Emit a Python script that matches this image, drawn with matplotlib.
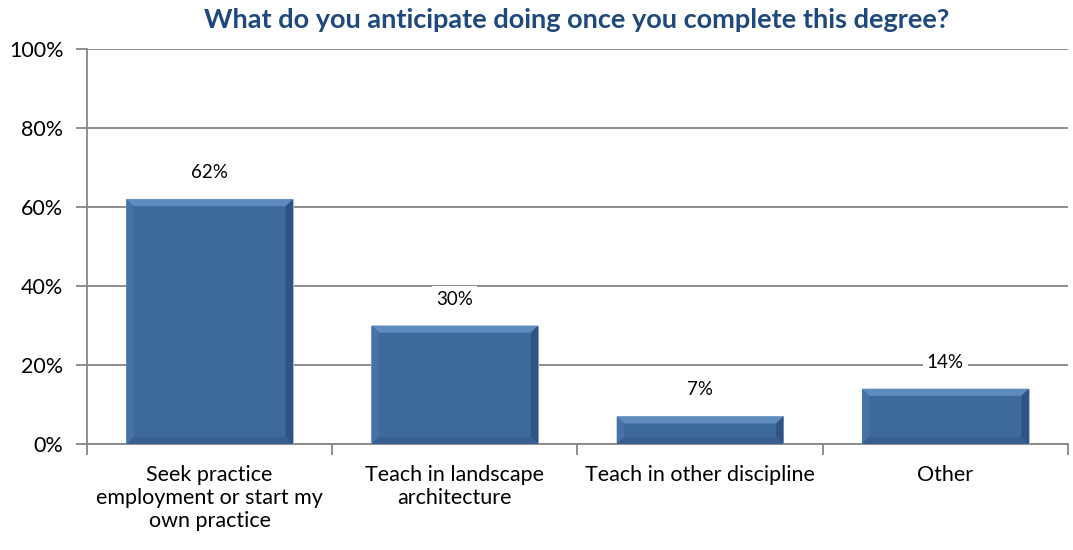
import numpy as np
import matplotlib.pyplot as plt
from matplotlib.patches import Polygon

categories = ["Seek practice\nemployment or start my\nown practice",
              "Teach in landscape\narchitecture",
              "Teach in other discipline",
              "Other"]
values = [62, 30, 7, 14]
labels = ["62%", "30%", "7%", "14%"]
yticks = [0, 20, 40, 60, 80, 100]

plt.rcParams['font.family'] = ['Lato', 'DejaVu Sans']

fig = plt.figure(figsize=(10.73, 5.5), dpi=100)
ax = fig.add_axes([0.0811, 0.1927, 0.9142, 0.7182])

x = np.arange(len(values))
width = 0.68
face = '#3E699B'
ax.bar(x, values, width=width, color=face, edgecolor='#A9BBD0', linewidth=0.8, zorder=3)

# soft bevel on each bar
bx = 0.030
by = 1.8
for xi, v in zip(x, values):
    l, r = xi - width / 2, xi + width / 2
    sides = [
        ([(l, v), (r, v), (r - bx, v - by), (l + bx, v - by)], '#5F8BBF'),
        ([(l, 0), (l, v), (l + bx, v - by), (l + bx, by)], '#4672A5'),
        ([(r, 0), (r, v), (r - bx, v - by), (r - bx, by)], '#2F5483'),
        ([(l, 0), (r, 0), (r - bx, by), (l + bx, by)], '#375F90'),
    ]
    for pts, c in sides:
        ax.add_patch(Polygon(pts, closed=True, facecolor=c, edgecolor='none', zorder=4))

for xi, v, lab in zip(x, values, labels):
    ax.annotate(lab, (xi, v), xytext=(0, 19), textcoords='offset points',
                ha='center', va='center', fontsize=13.5, color='black',
                bbox=dict(facecolor='white', edgecolor='none', pad=3), zorder=5)

ax.set_xlim(-0.5, len(values) - 0.5)
ax.set_ylim(0, 100)
ax.set_yticks(yticks)
ax.set_yticklabels([f"{t}%" for t in yticks], fontsize=15.5)
ax.yaxis.grid(True, color='#868686', linewidth=1.3, zorder=0)
ax.set_axisbelow(True)

ax.set_xticks(np.arange(len(values) + 1) - 0.5)
ax.set_xticklabels([])
ax.set_xticks(x, minor=True)
ax.set_xticklabels(categories, minor=True, fontsize=15.5, linespacing=1.2)
ax.tick_params(axis='x', which='major', length=8, color='#868686', width=1.3, direction='out')
ax.tick_params(axis='x', which='minor', length=0, pad=15)
ax.tick_params(axis='y', length=8, color='#868686', width=1.3, pad=9)

for s in ['top', 'right']:
    ax.spines[s].set_visible(False)
for s in ['left', 'bottom']:
    ax.spines[s].set_color('#868686')
    ax.spines[s].set_linewidth(1.3)

fig.text(0.5378, 0.963, "What do you anticipate doing once you complete this degree?",
         ha='center', va='center', fontsize=19.5, fontweight='bold', color='#1F497D')

fig.savefig("out.png", dpi=100)
